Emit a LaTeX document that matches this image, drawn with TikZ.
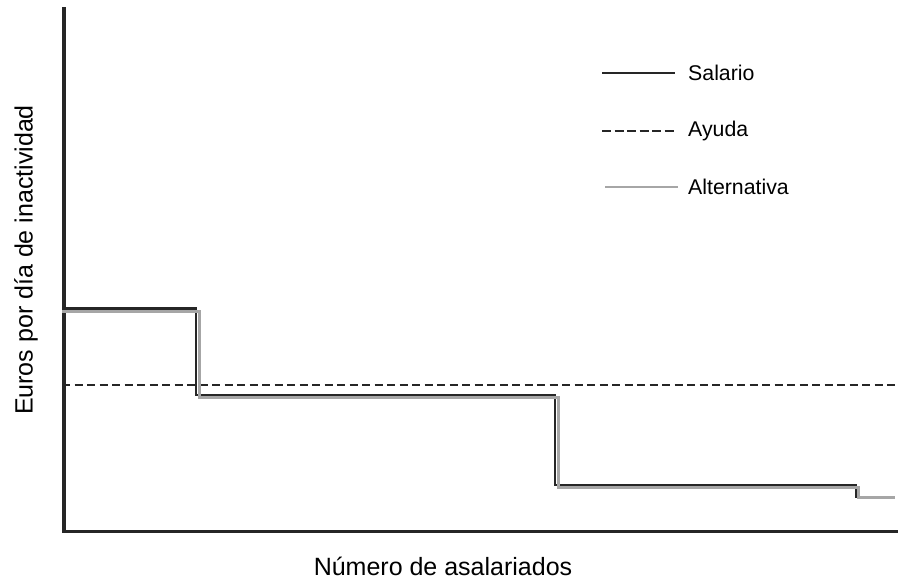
\documentclass[tikz,border=0pt]{standalone}
\usepackage{fontspec}
\setmainfont{Liberation Sans}
\begin{document}
\begin{tikzpicture}[
    x=1pt, y=-1pt,
    axis/.style={line width=3.6pt, black!85},
    salario/.style={line width=2.6pt, black!85},
    ayuda/.style={line width=1.5pt, black!85, dash pattern=on 8pt off 4.5pt},
    alternativa/.style={line width=3pt, black!35},
    label/.style={font=\fontsize{21.3}{25}\selectfont, inner sep=0pt},
    axislabel/.style={font=\fontsize{25}{30}\selectfont, inner sep=0pt}
]
\useasboundingbox (0,0) rectangle (898,582);
% axes
\coordinate (top) at (64,7);
\coordinate (origin) at (64,531.5);
\coordinate (right) at (898,531.5);
\draw[axis] (top) -- (origin) -- (right);
\node[axislabel, rotate=90] (ylab) at (26,260) {Euros por día de inactividad};
\node[axislabel] (xlab) at (443,566) {Número de asalariados};
% curves
\draw[ayuda] (62,385) -- (898,385);
\draw[salario] (62,308.5) -- (196,308.5) -- (196,395) -- (555,395)
    -- (555,485) -- (856,485) -- (856,497) -- (895,497);
\draw[alternativa] (62,311) -- (199,311) -- (199,397) -- (558,397)
    -- (558,487) -- (858,487) -- (858,497.5) -- (895,497.5);
% legend
\node[label, anchor=west] (salario) at (688,73) {Salario};
\node[label, anchor=west] (ayuda) at (688,131) {Ayuda};
\node[label, anchor=west] (alternativa) at (688,187) {Alternativa};
\coordinate (s0) at (602,73);
\coordinate (a0) at (602,131);
\coordinate (t0) at (605,187);
\draw[salario, line width=2.2pt] (s0) -- ([xshift=-13pt]salario.west);
\draw[ayuda, dash pattern=on 9pt off 3.5pt] (a0) -- ([xshift=-13pt]ayuda.west);
\draw[alternativa, line width=2.2pt] (t0) -- ([xshift=-10pt]alternativa.west);
\end{tikzpicture}
\end{document}
